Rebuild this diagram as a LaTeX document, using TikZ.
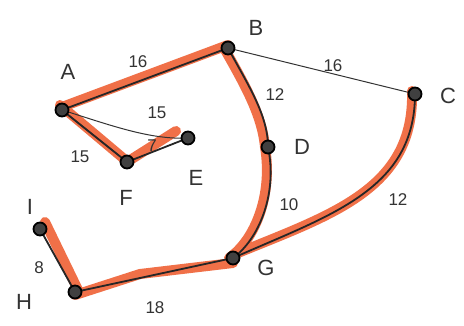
\documentclass[tikz,border=0pt]{standalone}
\usepackage{fontspec}
\setmainfont{Liberation Sans}
\begin{document}
\begin{tikzpicture}[x=1pt,y=-1pt,
  vert/.style={circle,draw=black,line width=1.8pt,fill=black!75,inner sep=0pt,minimum size=13pt},
  hl/.style={draw={rgb,255:red,240;green,112;blue,72},line width=10pt,line cap=round},
  edge/.style={draw=black!85,line width=1.8pt},
  thin/.style={draw=black!80,line width=1pt},
  vlab/.style={font=\fontsize{22}{24}\selectfont,text=black!80},
  elab/.style={font=\fontsize{17}{19}\selectfont,text=black!80}]
\useasboundingbox (0,0) rectangle (464,326);
\fill[white] (0,0) rectangle (464,326);
% coordinates
\coordinate (a) at (62,110);
\coordinate (b) at (228,48);
\coordinate (c) at (415,94);
\coordinate (d) at (268,147);
\coordinate (e) at (188,138);
\coordinate (f) at (127,162);
\coordinate (g) at (233,258);
\coordinate (h) at (75,292);
\coordinate (i) at (40,229);
% orange highlights
\draw[hl] ([yshift=3]a) -- ([yshift=3]b);
\draw[hl] ([xshift=-4]b) .. controls (245,85) and (262,115) .. ([xshift=-3]d);
\draw[hl] ([xshift=-3]d) .. controls (273,195) and (255,240) .. ([xshift=-4]g);
\draw[hl] ([xshift=-3,yshift=3]c) .. controls (415,190) and (330,215) .. ([yshift=3]g);
\draw[hl] ([yshift=-5]g) -- (140,274) -- ([yshift=-3]h);
\draw[hl] ([xshift=4]h) -- (45,222);
\draw[hl] ([xshift=-2,yshift=5]a) -- ([xshift=-4,yshift=4]f);
\draw[hl] (f) -- (176,131);
% edges
\draw[edge] (a) -- (b);
\draw[thin] (b) -- (c);
\draw[thin] (a) .. controls (110,125) and (150,140) .. (e);
\draw[edge] (a) -- (f);
\draw[edge] (f) -- (e);
\draw[edge] (b) .. controls (248,85) and (268,115) .. (d);
\draw[edge] (d) .. controls (278,195) and (258,240) .. (g);
\draw[edge] (c) .. controls (415,190) and (330,215) .. (g);
\draw[edge] (g) -- (140,278) -- (h);
\draw[edge] (h) -- (i);
% vertices
\foreach \n in {a,b,c,d,e,f,g,h,i} \node[vert] (\n v) at (\n) {};
% vertex labels
\node[vlab] (la) at (68,72) {A};
\node[vlab] (lb) at (256,28) {B};
\node[vlab] (lc) at (448,96) {C};
\node[vlab] (ld) at (302,147) {D};
\node[vlab] (le) at (196,178) {E};
\node[vlab] (lf) at (126,198) {F};
\node[vlab] (lg) at (266,268) {G};
\node[vlab] (lh) at (24,302) {H};
\node[vlab] (li) at (30,207) {I};
% edge labels
\node[elab] (l1) at (138,62) {16};
\node[elab] (l2) at (333,66) {16};
\node[elab] (l3) at (157,113) {15};
\node[elab] (l4) at (80,157) {15};
\node[elab] (l5) at (152,146) {7};
\node[elab] (l6) at (275,95) {12};
\node[elab] (l7) at (289,205) {10};
\node[elab] (l8) at (398,200) {12};
\node[elab] (l9) at (155,308) {18};
\node[elab] (l10) at (39,268) {8};
\end{tikzpicture}
\end{document}
